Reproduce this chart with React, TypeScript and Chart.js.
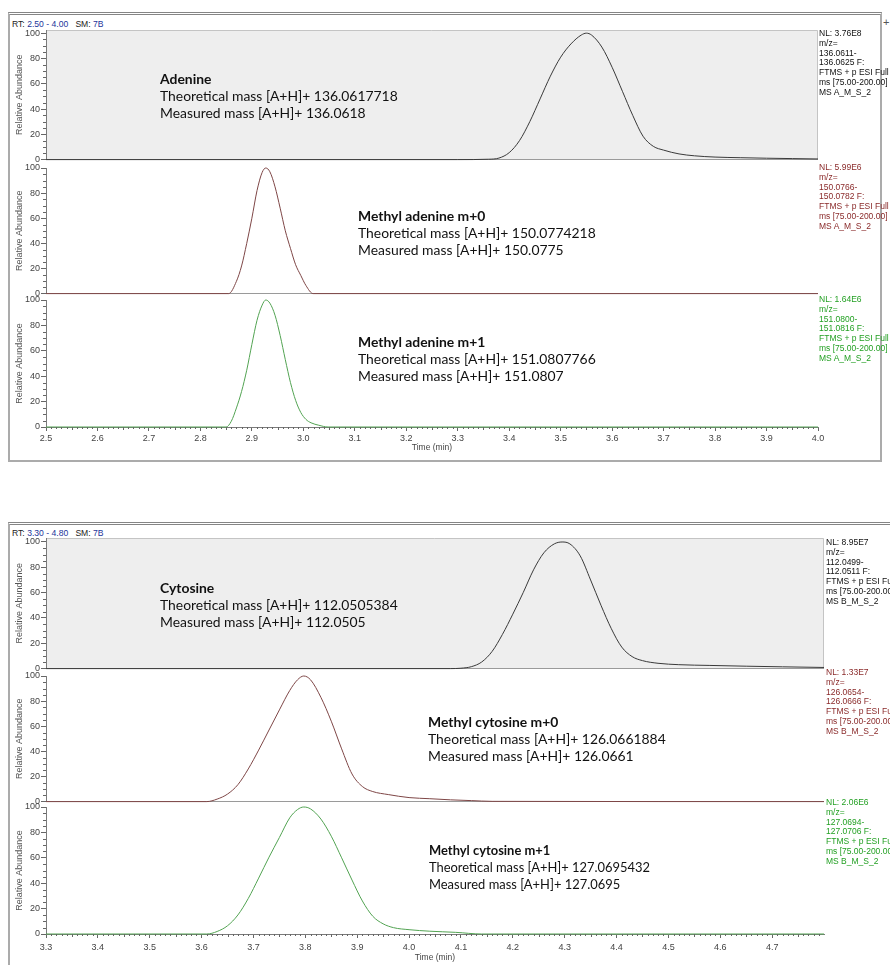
import React, { useEffect, useRef } from 'react';
import { Chart, registerables } from 'chart.js';

Chart.register(...registerables);
Chart.defaults.font.family = "'Liberation Sans', Arial, sans-serif";

// ---------------- data ----------------
// Panel A (RT 2.50 - 4.00)
const adenineTime = [2.5, 3.3, 3.36, 3.38, 3.4, 3.42, 3.44, 3.46, 3.48, 3.5, 3.52, 3.54, 3.55, 3.56, 3.58, 3.6, 3.62, 3.64, 3.66, 3.68, 3.7, 3.73, 3.76, 3.8, 3.85, 3.9, 3.95, 4.0];
const adenineAbundance = [0, 0, 0.3, 1.2, 5.5, 15, 30, 48, 66, 81, 91.5, 98.5, 100, 98.5, 89, 73, 54, 35, 18.5, 10.5, 7.5, 4.5, 3.0, 2.0, 1.5, 1.1, 0.8, 0.5];

const mAdenine0Time = [2.5, 2.855, 2.87, 2.88, 2.89, 2.9, 2.91, 2.92, 2.927, 2.935, 2.945, 2.955, 2.965, 2.975, 2.985, 2.995, 3.005, 3.019, 4.0];
const mAdenine0Abundance = [0, 0, 9.8, 22, 40, 60, 82, 96.5, 100, 97, 85, 68, 50, 36, 23, 14.5, 6.5, 0, 0];

const mAdenine1Time = [2.5, 2.85, 2.86, 2.87, 2.88, 2.89, 2.9, 2.91, 2.92, 2.927, 2.935, 2.945, 2.955, 2.965, 2.975, 2.985, 2.995, 3.005, 3.015, 3.03, 3.048, 4.0];
const mAdenine1Abundance = [0, 0, 4.5, 15, 28, 44.7, 65, 84, 96, 100, 97.5, 88, 72, 53, 35, 21, 11.5, 6, 3.3, 1.4, 0, 0];

// Panel B (RT 3.30 - 4.80)
const cytosineTime = [3.3, 4.08, 4.1, 4.12, 4.14, 4.16, 4.18, 4.2, 4.22, 4.24, 4.26, 4.28, 4.295, 4.31, 4.33, 4.35, 4.37, 4.39, 4.41, 4.43, 4.45, 4.48, 4.52, 4.58, 4.65, 4.72, 4.8];
const cytosineAbundance = [0, 0, 0.3, 1.5, 5.2, 13.5, 27, 43, 60, 78, 91.5, 98.5, 100, 98.5, 89, 70, 50, 31.5, 17, 9.5, 6.3, 4.2, 3.1, 2.5, 1.9, 1.4, 0.9];

const mCytosine0Time = [3.3, 3.61, 3.63, 3.65, 3.67, 3.69, 3.71, 3.73, 3.75, 3.77, 3.785, 3.797, 3.81, 3.83, 3.85, 3.87, 3.89, 3.91, 3.93, 3.96, 4.0, 4.04, 4.08, 4.12, 4.16, 4.8];
const mCytosine0Abundance = [0, 0, 2, 6, 13.5, 26, 41, 57, 73, 88.5, 97, 100, 97, 83, 64, 42, 22, 12, 8, 5.6, 3.2, 2.3, 1.4, 0.8, 0.2, 0];

const mCytosine1Time = [3.3, 3.61, 3.63, 3.65, 3.67, 3.69, 3.71, 3.73, 3.75, 3.77, 3.785, 3.797, 3.81, 3.83, 3.85, 3.87, 3.89, 3.91, 3.93, 3.95, 3.97, 4.0, 4.04, 4.09, 4.14, 4.8];
const mCytosine1Abundance = [0, 0, 2, 6.5, 15, 28, 44, 60.5, 76, 91.5, 98, 100, 98.5, 90.5, 77, 60, 42.5, 26, 14, 8, 5, 3.4, 2.2, 1.3, 0, 0];

// tick labels
const xTicksA = [2.5, 2.6, 2.7, 2.8, 2.9, 3.0, 3.1, 3.2, 3.3, 3.4, 3.5, 3.6, 3.7, 3.8, 3.9, 4.0];
const xTicksB = [3.3, 3.4, 3.5, 3.6, 3.7, 3.8, 3.9, 4.0, 4.1, 4.2, 4.3, 4.4, 4.5, 4.6, 4.7];
const yTicks = [0, 20, 40, 60, 80, 100];

// right-hand scan labels
const labelsA1 = ['NL: 3.76E8', 'm/z=', '136.0611-', '136.0625 F:', 'FTMS + p ESI Full', 'ms [75.00-200.00]', 'MS A_M_S_2'];
const labelsA2 = ['NL: 5.99E6', 'm/z=', '150.0766-', '150.0782 F:', 'FTMS + p ESI Full', 'ms [75.00-200.00]', 'MS A_M_S_2'];
const labelsA3 = ['NL: 1.64E6', 'm/z=', '151.0800-', '151.0816 F:', 'FTMS + p ESI Full', 'ms [75.00-200.00]', 'MS A_M_S_2'];
const labelsB1 = ['NL: 8.95E7', 'm/z=', '112.0499-', '112.0511 F:', 'FTMS + p ESI Full', 'ms [75.00-200.00]', 'MS B_M_S_2'];
const labelsB2 = ['NL: 1.33E7', 'm/z=', '126.0654-', '126.0666 F:', 'FTMS + p ESI Full', 'ms [75.00-200.00]', 'MS B_M_S_2'];
const labelsB3 = ['NL: 2.06E6', 'm/z=', '127.0694-', '127.0706 F:', 'FTMS + p ESI Full', 'ms [75.00-200.00]', 'MS B_M_S_2'];

// annotations
const annAdenine = ['Adenine', 'Theoretical mass [A+H]+ 136.0617718', 'Measured mass [A+H]+ 136.0618'];
const annMAdenine0 = ['Methyl adenine m+0', 'Theoretical mass [A+H]+ 150.0774218', 'Measured mass [A+H]+ 150.0775'];
const annMAdenine1 = ['Methyl adenine m+1', 'Theoretical mass [A+H]+ 151.0807766', 'Measured mass [A+H]+ 151.0807'];
const annCytosine = ['Cytosine', 'Theoretical mass [A+H]+ 112.0505384', 'Measured mass [A+H]+ 112.0505'];
const annMCytosine0 = ['Methyl cytosine m+0', 'Theoretical mass [A+H]+ 126.0661884', 'Measured mass [A+H]+ 126.0661'];
const annMCytosine1 = ['Methyl cytosine m+1', 'Theoretical mass [A+H]+ 127.0695432', 'Measured mass [A+H]+ 127.0695'];

const C_BLACK = '#3a3a3a';
const C_RED = '#7e4646';
const C_GREEN = '#52a352';
const L_BLACK = '#111111';
const L_RED = '#8a2a2a';
const L_GREEN = '#23a023';
const SANS = "'Liberation Sans', Arial, sans-serif";

type TraceProps = {
  left: number;
  top: number;
  width: number;
  height: number;
  padRight: number;
  xMin: number;
  xMax: number;
  yMax: number;
  times: number[];
  values: number[];
  color: string;
  shaded?: boolean;
  showX?: boolean;
  xTicks?: number[];
  xAxisHeight?: number;
  xLabelPad?: number;
  xTitlePad?: number;
};

function Trace(p: TraceProps) {
  const ref = useRef<HTMLCanvasElement>(null);
  useEffect(() => {
    const canvas = ref.current;
    if (!canvas) return;
    const deco = {
      id: 'deco',
      beforeDraw(chart: any) {
        const { ctx, chartArea: a } = chart;
        if (p.shaded) {
          ctx.save();
          ctx.fillStyle = '#eeeeee';
          ctx.fillRect(a.left, a.top, a.right - a.left, a.bottom - a.top);
          ctx.strokeStyle = '#c4c4c4';
          ctx.lineWidth = 1;
          ctx.beginPath();
          ctx.moveTo(a.left, a.top + 0.5);
          ctx.lineTo(a.right - 0.5, a.top + 0.5);
          ctx.lineTo(a.right - 0.5, a.bottom);
          ctx.stroke();
          ctx.restore();
        }
      },
      beforeDatasetsDraw(chart: any) {
        const { ctx, chartArea: a } = chart;
        if (!p.showX) {
          ctx.save();
          ctx.strokeStyle = '#9a9a9a';
          ctx.lineWidth = 1;
          ctx.beginPath();
          ctx.moveTo(a.left, Math.round(a.bottom) - 0.5);
          ctx.lineTo(a.right, Math.round(a.bottom) - 0.5);
          ctx.stroke();
          ctx.restore();
        }
      },
      afterDraw(chart: any) {
        const { ctx, chartArea: a, scales } = chart;
        ctx.save();
        ctx.strokeStyle = '#666';
        ctx.lineWidth = 1;
        ctx.beginPath();
        for (let v = 5; v < 100; v += 5) {
          if (v % 20 === 0) continue;
          const py = Math.round(scales.y.getPixelForValue(v)) + 0.5;
          ctx.moveTo(a.left - 3, py);
          ctx.lineTo(a.left, py);
        }
        if (p.showX) {
          const n = Math.round((p.xMax - p.xMin) / 0.01);
          for (let i = 1; i < n; i++) {
            if (i % 10 === 0) continue;
            const v = p.xMin + i * 0.01;
            const px = Math.round(scales.x.getPixelForValue(v)) + 0.5;
            const len = i % 5 === 0 ? 3 : 2;
            ctx.moveTo(px, a.bottom);
            ctx.lineTo(px, a.bottom + len);
          }
        }
        ctx.stroke();
        ctx.restore();
      },
    };
    const chart = new Chart(canvas, {
      type: 'line',
      data: {
        datasets: [
          {
            data: p.times.map((t, i) => ({ x: t, y: p.values[i] })),
            borderColor: p.color,
            borderWidth: 1,
            pointRadius: 0,
            fill: false,
            cubicInterpolationMode: 'monotone',
            clip: 3,
          } as any,
        ],
      },
      options: {
        animation: false,
        responsive: false,
        maintainAspectRatio: false,
        events: [],
        layout: { padding: { left: 0, right: p.padRight, top: 8, bottom: p.showX ? 0 : 6 } },
        plugins: { legend: { display: false }, tooltip: { enabled: false } },
        scales: {
          x: {
            type: 'linear',
            min: p.xMin,
            max: p.xMax,
            display: !!p.showX,
            afterBuildTicks: (s: any) => {
              s.ticks = (p.xTicks || []).map((v) => ({ value: v }));
            },
            afterFit: (s: any) => {
              if (p.showX) s.height = p.xAxisHeight || 28;
            },
            ticks: {
              autoSkip: false,
              maxRotation: 0,
              padding: p.xLabelPad ?? 2,
              color: '#444',
              font: { size: 9, family: SANS },
              callback: (v: any) => Number(v).toFixed(1),
            },
            grid: { display: true, drawOnChartArea: false, tickLength: 4, color: '#666' },
            border: { display: true, color: '#7a7a7a' },
            title: {
              display: true,
              text: 'Time (min)',
              color: '#444',
              font: { size: 8.5, family: SANS },
              padding: { top: 0, bottom: p.xTitlePad ?? 2 },
            },
          },
          y: {
            type: 'linear',
            min: 0,
            max: p.yMax,
            afterBuildTicks: (s: any) => {
              s.ticks = yTicks.map((v) => ({ value: v }));
            },
            afterFit: (s: any) => {
              s.width = 36;
            },
            ticks: { padding: 1, color: '#444', font: { size: 9, family: SANS } },
            grid: { display: true, drawOnChartArea: false, tickLength: 5, color: '#666' },
            border: { display: true, color: '#7a7a7a' },
            title: {
              display: true,
              text: 'Relative Abundance',
              color: '#555',
              font: { size: 9, family: SANS },
              padding: { top: 4, bottom: 0 },
            },
          },
        },
      } as any,
      plugins: [deco as any],
    });
    return () => chart.destroy();
  }, []);
  return (
    <canvas
      ref={ref}
      width={p.width}
      height={p.height}
      style={{ position: 'absolute', left: p.left, top: p.top, width: p.width, height: p.height }}
    />
  );
}

function Annotation({ left, top, lines, squeeze }: { left: number; top: number; lines: string[]; squeeze?: number }) {
  return (
    <div
      style={{
        position: 'absolute',
        left,
        top,
        fontFamily: "Lato, 'Noto Sans', sans-serif",
        fontSize: 13.9,
        lineHeight: '17px',
        color: '#111',
        whiteSpace: 'nowrap',
        transform: squeeze ? `scaleX(${squeeze})` : undefined,
        transformOrigin: 'left top',
      }}
    >
      <div style={{ fontWeight: 700 }}>{lines[0]}</div>
      <div>{lines[1]}</div>
      <div>{lines[2]}</div>
    </div>
  );
}

function ScanLabel({ left, top, lines, color }: { left: number; top: number; lines: string[]; color: string }) {
  return (
    <div
      style={{
        position: 'absolute',
        left,
        top,
        fontFamily: SANS,
        fontSize: 8.5,
        lineHeight: '9.8px',
        color,
        whiteSpace: 'nowrap',
      }}
    >
      {lines.map((l, i) => (
        <div key={i}>{l}</div>
      ))}
    </div>
  );
}

function RangeLine({ top, range }: { top: number; range: string }) {
  return (
    <div
      style={{
        position: 'absolute',
        left: 12,
        top,
        fontFamily: SANS,
        fontSize: 8.6,
        lineHeight: '11px',
        color: '#222',
        whiteSpace: 'pre',
      }}
    >
      {'RT: '}
      <span style={{ color: '#22349a' }}>{range}</span>
      {'   SM: '}
      <span style={{ color: '#22349a' }}>7B</span>
    </div>
  );
}

export default function App() {
  return (
    <div
      style={{
        position: 'absolute',
        left: 0,
        top: 0,
        width: 890,
        height: 965,
        overflow: 'hidden',
        background: '#ffffff',
      }}
    >
      {/* frames */}
      <div
        style={{
          position: 'absolute',
          left: 8,
          top: 12,
          width: 874,
          height: 450,
          boxSizing: 'border-box',
          border: '2px solid #ababab',
          borderTop: '3px double #858585',
        }}
      />
      <div style={{ position: 'absolute', left: 883, top: 16, fontFamily: SANS, fontSize: 11, color: '#555' }}>+</div>
      <div
        style={{
          position: 'absolute',
          left: 8,
          top: 522,
          width: 920,
          height: 520,
          boxSizing: 'border-box',
          border: '2px solid #ababab',
          borderTop: '3px double #858585',
        }}
      />

      <RangeLine top={19} range="2.50 - 4.00" />
      <RangeLine top={528} range="3.30 - 4.80" />

      {/* Panel A */}
      <Trace left={10} top={22} width={830} height={144} padRight={22} xMin={2.5} xMax={4.0} yMax={102.5}
        times={adenineTime} values={adenineAbundance} color={C_BLACK} shaded />
      <Trace left={10} top={160} width={830} height={140} padRight={22} xMin={2.5} xMax={4.0} yMax={100}
        times={mAdenine0Time} values={mAdenine0Abundance} color={C_RED} />
      <Trace left={10} top={292} width={830} height={163} padRight={22} xMin={2.5} xMax={4.0} yMax={100}
        times={mAdenine1Time} values={mAdenine1Abundance} color={C_GREEN} showX xTicks={xTicksA}
        xAxisHeight={28} xLabelPad={2} xTitlePad={2} />

      {/* Panel B */}
      <Trace left={10} top={530} width={830} height={145} padRight={16} xMin={3.3} xMax={4.8} yMax={103.15}
        times={cytosineTime} values={cytosineAbundance} color={C_BLACK} shaded />
      <Trace left={10} top={668} width={830} height={140} padRight={16} xMin={3.3} xMax={4.8} yMax={100}
        times={mCytosine0Time} values={mCytosine0Abundance} color={C_RED} />
      <Trace left={10} top={799} width={830} height={165} padRight={16} xMin={3.3} xMax={4.8} yMax={100}
        times={mCytosine1Time} values={mCytosine1Abundance} color={C_GREEN} showX xTicks={xTicksB}
        xAxisHeight={30} xLabelPad={4} xTitlePad={1} />

      {/* annotations */}
      <Annotation left={160} top={70} lines={annAdenine} />
      <Annotation left={358} top={207} lines={annMAdenine0} />
      <Annotation left={358} top={333} lines={annMAdenine1} />
      <Annotation left={160} top={579} lines={annCytosine} />
      <Annotation left={428} top={713} lines={annMCytosine0} />
      <Annotation left={429} top={841} lines={annMCytosine1} squeeze={0.93} />

      {/* scan labels */}
      <ScanLabel left={819} top={29} lines={labelsA1} color={L_BLACK} />
      <ScanLabel left={819} top={163} lines={labelsA2} color={L_RED} />
      <ScanLabel left={819} top={295} lines={labelsA3} color={L_GREEN} />
      <ScanLabel left={826} top={538} lines={labelsB1} color={L_BLACK} />
      <ScanLabel left={826} top={668} lines={labelsB2} color={L_RED} />
      <ScanLabel left={826} top={798} lines={labelsB3} color={L_GREEN} />
    </div>
  );
}
